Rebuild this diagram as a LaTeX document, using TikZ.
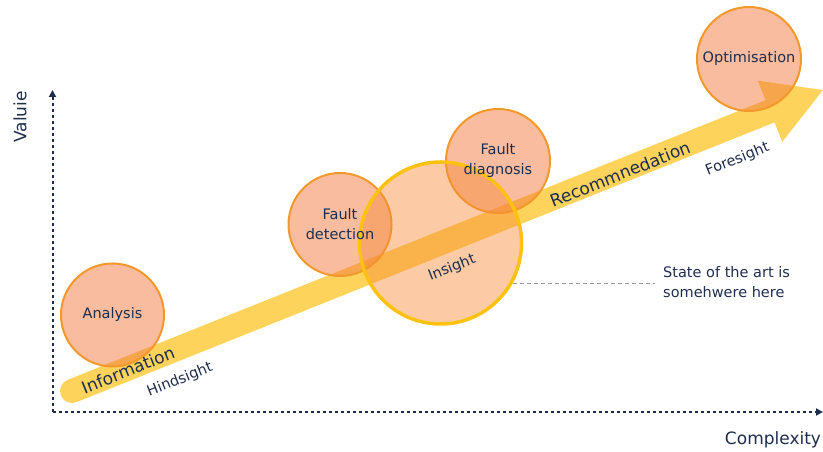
\documentclass[tikz,border=0pt]{standalone}
\usepackage{fontspec}
\setmainfont{DejaVu Sans}
\usetikzlibrary{arrows.meta}
\definecolor{navy}{RGB}{31,45,77}
\definecolor{bandc}{RGB}{253,211,92}
\definecolor{cfill}{RGB}{243,121,61}
\definecolor{cedge}{RGB}{243,152,43}
\definecolor{ifill}{RGB}{248,140,55}
\definecolor{iedge}{RGB}{253,193,15}
\definecolor{dgray}{RGB}{150,150,150}
\begin{document}
\begin{tikzpicture}[x=1pt,y=1pt,
  bubble/.style={circle, draw=cedge, line width=2pt, fill=cfill, fill opacity=0.5, inner sep=0pt},
  bigbubble/.style={circle, draw=iedge, line width=3.5pt, fill=ifill, fill opacity=0.45, inner sep=0pt},
  lbl/.style={text=navy, font=\fontsize{14.5}{19.5}\selectfont, align=center, inner sep=0pt},
  bandlbl/.style={text=navy, font=\fontsize{17}{20}\selectfont, inner sep=0pt, rotate=21.84},
  sidelbl/.style={text=navy, font=\fontsize{14.5}{19}\selectfont, inner sep=0pt, rotate=21.84},
  axislbl/.style={text=navy, font=\fontsize{17}{20}\selectfont, inner sep=0pt},
  axisline/.style={navy, line width=2pt, dash pattern=on 3pt off 3pt, -{Triangle[length=7pt,width=7pt]}}
]
\useasboundingbox (0,0) rectangle (823,452);

% axes
\coordinate (o) at (52.5,40);
\coordinate (ytip) at (52.5,362);
\coordinate (xtip) at (823,40);
\draw[axisline] (o) -- (ytip);
\draw[axisline] (o) -- (xtip);
\node[axislbl, rotate=90] (yl) at (20,335) {Valuie};
\node[axislbl] (xl) at (773,12) {Complexity};

% band arrow
\begin{scope}[shift={(72,61)}, rotate=21.84]
  \fill[bandc] (0,12) -- (752,12) -- (752,33) -- (809,0) -- (752,-33) -- (752,-12) -- (0,-12)
    arc[start angle=270, end angle=90, radius=12] -- cycle;
\end{scope}

% circles
\node[bubble, minimum size=103pt] (ana) at (112.5,137) {};
\node[bubble, minimum size=103pt] (fdet) at (340,227.5) {};
\node[bubble, minimum size=104pt] (fdia) at (498,291) {};
\node[bigbubble, minimum size=162pt] (ins) at (440.5,209) {};
\node[bubble, minimum size=104pt] (opt) at (749,393) {};

% circle labels
\node[lbl] (ana-t) at (ana) {Analysis};
\node[lbl] (fdet-t) at (340,228) {Fault\\detection};
\node[lbl] (fdia-t) at (498,291.5) {Fault\\diagnosis};
\node[lbl, rotate=21.84] (ins-t) at (452,184) {Insight};
\node[lbl] (opt-t) at (749,393) {Optimisation};

% band labels
\node[bandlbl] (info) at (128,82) {Information};
\node[bandlbl] (reco) at (620,278) {Recommnedation};
\node[sidelbl] (hind) at (180,72) {Hindsight};
\node[sidelbl] (fore) at (737.5,292.5) {Foresight};

% state of the art
\node[lbl, align=left, anchor=west] (state) at (663,170) {State of the art is\\somehwere here};
\draw[dgray, line width=1pt, dash pattern=on 4pt off 3pt, shorten >=8pt] (ins.-29.6) -- (ins.-29.6 -| state.west);
\end{tikzpicture}
\end{document}
